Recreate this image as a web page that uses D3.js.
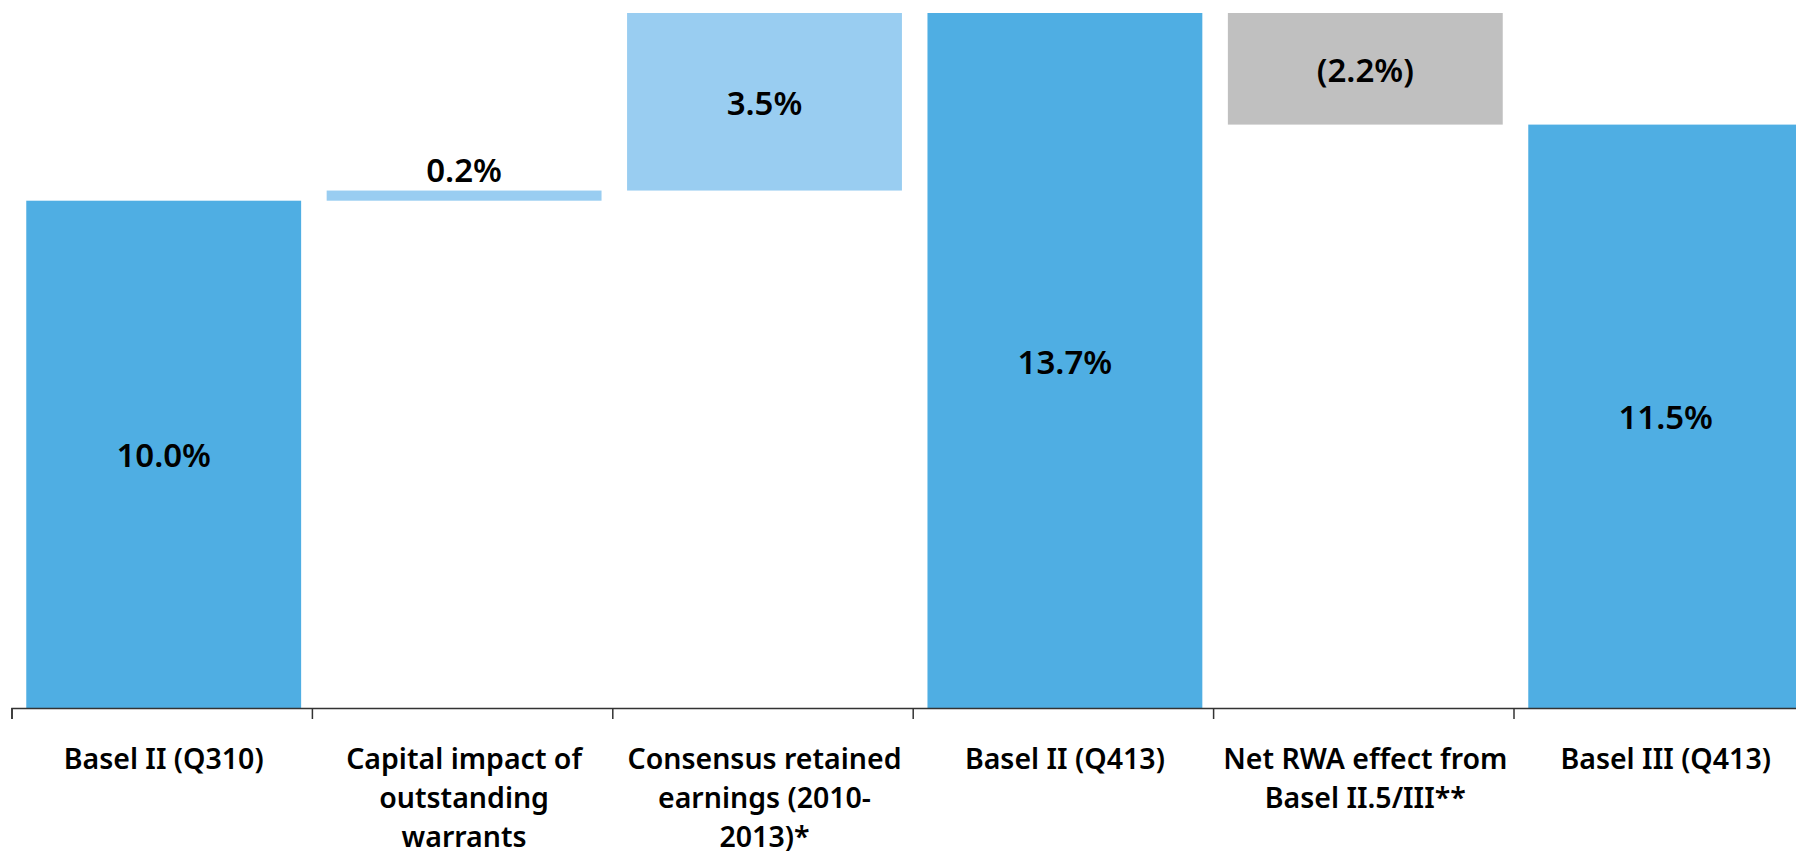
<!DOCTYPE html>
<html>
<head>
<meta charset="utf-8">
<script src="https://cdn.jsdelivr.net/npm/d3@7"></script>
<style>
  html, body { margin: 0; padding: 0; background: #fff; overflow: hidden; }
  svg { display: block; }
</style>
</head>
<body>
<div id="chart"></div>
<script>
// Waterfall: capital ratio bridge Basel II -> Basel III
const width = 1796;
const height = 851;

const categories = [
    "Basel II (Q310)",
    "Capital impact of\noutstanding\nwarrants",
    "Consensus retained\nearnings (2010-\n2013)*",
    "Basel II (Q413)",
    "Net RWA effect from\nBasel II.5/III**",
    "Basel III (Q413)"
];
const values = [10.0, 0.2, 3.5, 13.7, -2.2, 11.5];
const kinds = ["total", "delta", "delta", "total", "delta", "total"];
const valueLabels = ["10.0%", "0.2%", "3.5%", "13.7%", "(2.2%)", "11.5%"];

const colors = { total: "#4faee3", up: "#99cdf1", down: "#c0c0c0" };

// running base for each bar
let running = 0;
const bars = categories.map((c, i) => {
    let lo, hi;
    if (kinds[i] === "total") {
        lo = 0; hi = values[i]; running = values[i];
    } else {
        lo = Math.min(running, running + values[i]);
        hi = Math.max(running, running + values[i]);
        running += values[i];
    }
    const fill = kinds[i] === "total" ? colors.total : (values[i] >= 0 ? colors.up : colors.down);
    return { cat: c, lo, hi, fill, label: valueLabels[i] };
});

const svg = d3.select("#chart")
    .append("svg")
    .attr("width", width)
    .attr("height", height);

const x0 = 11.5, step = 300.4;
const x = d3.scaleBand()
    .domain(categories)
    .range([x0 + 2, x0 + 2 + step * categories.length])
    .paddingInner(0.085)
    .paddingOuter(0.0425);

// band edges for axis ticks
const xEdge = d3.scaleLinear()
    .domain([0, categories.length])
    .range([x0, x0 + step * categories.length]);

const y = d3.scaleLinear()
    .domain([0, 13.7])
    .range([708, 13]);

svg.append("g")
    .selectAll("rect")
    .data(bars)
    .join("rect")
    .attr("x", d => x(d.cat))
    .attr("width", x.bandwidth())
    .attr("y", d => y(d.hi))
    .attr("height", d => y(d.lo) - y(d.hi))
    .attr("fill", d => d.fill);

// value labels: inside, or above when bar too thin
svg.append("g")
    .selectAll("text")
    .data(bars)
    .join("text")
    .attr("x", d => x(d.cat) + x.bandwidth() / 2)
    .attr("y", d => {
        const h = y(d.lo) - y(d.hi);
        return h < 40 ? y(d.hi) - 9 : (y(d.lo) + y(d.hi)) / 2 + 13;
    })
    .attr("text-anchor", "middle")
    .style("font-family", "'Noto Sans', sans-serif")
    .style("font-weight", 600)
    .style("font-size", "33px")
    .style("fill", "#000")
    .text(d => d.label);

// axis
const axis = svg.append("g")
    .attr("transform", `translate(0,${y(0)})`)
    .call(d3.axisBottom(xEdge).tickValues(d3.range(categories.length + 1)).tickSize(11).tickFormat(""));
axis.select(".domain").attr("stroke", "#333").attr("stroke-width", 1.5);
axis.selectAll(".tick line").attr("stroke", "#333").attr("stroke-width", 1.5);

// category labels
const catG = svg.append("g")
    .selectAll("text")
    .data(categories)
    .join("text")
    .attr("x", d => x(d) + x.bandwidth() / 2)
    .attr("y", y(0) + 61)
    .attr("text-anchor", "middle")
    .style("font-family", "'Noto Sans', sans-serif")
    .style("font-weight", 600)
    .style("font-size", "28.5px")
    .style("fill", "#000");

catG.each(function (d) {
    const t = d3.select(this);
    d.split("\n").forEach((line, i) => {
        t.append("tspan")
            .attr("x", x(d) + x.bandwidth() / 2)
            .attr("dy", i === 0 ? 0 : 39)
            .text(line);
    });
});
</script>
</body>
</html>
